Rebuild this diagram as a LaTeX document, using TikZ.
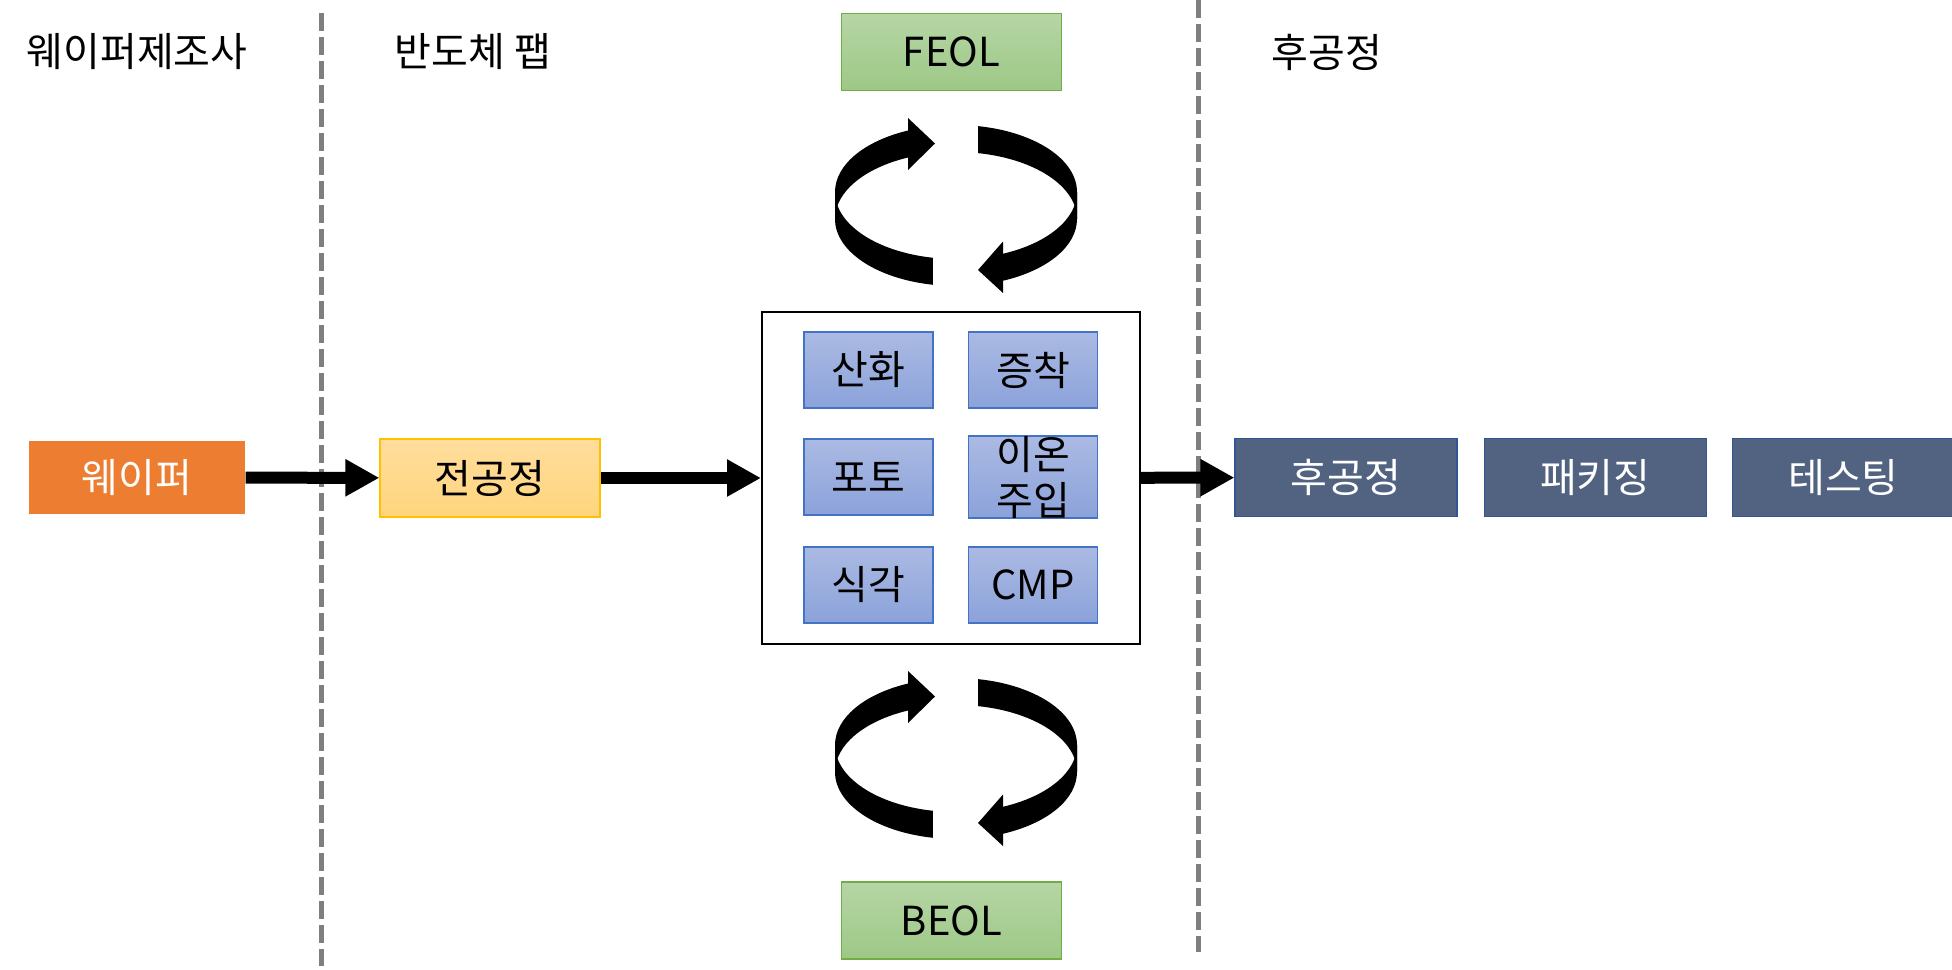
\documentclass[tikz,border=0pt]{standalone}
\usepackage{fontspec}
\setmainfont{Noto Sans CJK KR}
\usetikzlibrary{positioning,arrows.meta}
\definecolor{WaferOrange}{RGB}{237,125,49}
\definecolor{FrontTop}{RGB}{255,221,156}
\definecolor{FrontBottom}{RGB}{255,213,125}
\definecolor{FrontLine}{RGB}{255,192,0}
\definecolor{StepTop}{RGB}{171,186,227}
\definecolor{StepBottom}{RGB}{139,162,218}
\definecolor{StepLine}{RGB}{68,114,196}
\definecolor{LineTop}{RGB}{182,214,165}
\definecolor{LineBottom}{RGB}{157,200,134}
\definecolor{LineBorder}{RGB}{112,173,71}
\definecolor{BackFill}{RGB}{82,99,129}
\definecolor{BackLine}{RGB}{47,85,151}
\definecolor{DividerGray}{RGB}{127,127,127}

\begin{document}
\begin{tikzpicture}[x=0.5pt,y=-0.5pt,node distance=13pt,
      font=\fontsize{20}{23}\selectfont,
      box/.style={minimum width=110pt,minimum height=38.5pt,inner sep=0pt,align=center,line width=0.6pt},
      wafer/.style={box,fill=WaferOrange,text=white,minimum width=108pt,minimum height=36.5pt},
      front/.style={box,top color=FrontTop,bottom color=FrontBottom,draw=FrontLine,minimum height=39pt},
      stepbox/.style={box,top color=StepTop,bottom color=StepBottom,draw=StepLine,minimum width=64.5pt,minimum height=38pt},
      linebox/.style={box,top color=LineTop,bottom color=LineBottom,draw=LineBorder},
      back/.style={box,fill=BackFill,draw=BackLine,text=white,minimum width=111pt,minimum height=39pt},
      arrow/.style={-{Triangle[length=17pt,width=17.5pt]},line width=6pt},
      divider/.style={draw=DividerGray,line width=2.5pt,dash pattern=on 9pt off 3pt},
      turnaround/.pic={
        \fill (-121,-13.5) arc[start angle=180,end angle=246.6,x radius=121,y radius=67]
          -- ++(0,27) arc[start angle=246.6,end angle=180,x radius=121,y radius=67] -- cycle;
        \fill ({121*cos(101)},{-13.5+67*sin(101)}) arc[start angle=101,end angle=180,x radius=121,y radius=67]
          -- ++(0,27) arc[start angle=180,end angle=101,x radius=121,y radius=67] -- cycle;
        \fill (-48,-87.5) -- (-21,-62) -- (-48,-35.5) -- cycle;
        \fill ({121*cos(-79.5)},{-13.5+67*sin(-79.5)}) arc[start angle=-79.5,end angle=0,x radius=121,y radius=67]
          -- ++(0,27) arc[start angle=0,end angle=-79.5,x radius=121,y radius=67] -- cycle;
        \fill (121,-13.5) arc[start angle=0,end angle=67.2,x radius=121,y radius=67]
          -- ++(0,27) arc[start angle=67.2,end angle=0,x radius=121,y radius=67] -- cycle;
        \fill (47,36) -- (22,64.5) -- (47,87.5) -- cycle;
      }]
    \useasboundingbox (0,0) rectangle (1952,969);
    % column headers
    \node (maker) at (137,52) {웨이퍼제조사};
    \node (fabhead) at (473,52) {반도체 팹};
    \node (backhead) at (1327,52) {후공정};
    \draw[divider] (321,13) -- (321,966);
    \draw[divider] (1198,0) -- (1198,952);
    % main flow
    \node[wafer] (wafer) at (137,477.5) {웨이퍼};
    \node[front] (front) at (490,478) {전공정};
    \node[draw,line width=1pt,minimum width=189pt,minimum height=166pt] (fab) at (951,478) {};
    \node[back] (backend) at (1346,477.5) {후공정};
    \node[back,right=of backend] (package) {패키징};
    \node[back,right=12.5pt of package] (test) {테스팅};
    \draw[arrow] (wafer) -- (front);
    \draw[arrow] (front) -- (fab);
    \draw[arrow] (fab) -- (backend);
    % unit steps inside the fab
    \node[stepbox] (oxid) at (868.5,370) {산화};
    \node[stepbox] (depo) at (1033,370) {증착};
    \node[stepbox] (photo) at (868.5,477) {포토};
    \node[stepbox] (implant) at (1033,477) {이온\\주입};
    \node[stepbox] (etch) at (868.5,585) {식각};
    \node[stepbox] (cmp) at (1033,585) {CMP};
    % FEOL / BEOL loops
    \node[linebox] (feol) at (951.5,52) {FEOL};
    \node[linebox] (beol) at (951.5,920.5) {BEOL};
    \pic at (956,205.5) {turnaround};
    \pic at (956,758.5) {turnaround};
  \end{tikzpicture}
\end{document}
